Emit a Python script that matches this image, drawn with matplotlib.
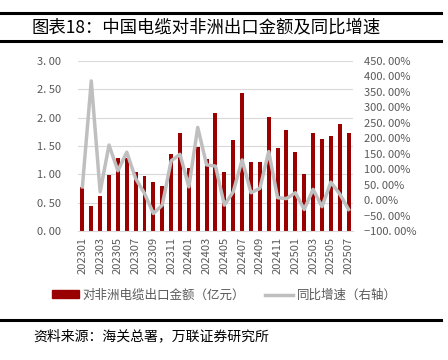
import matplotlib.pyplot as plt
import matplotlib.ticker as mticker
from matplotlib.lines import Line2D
from matplotlib.patches import Patch

plt.rcParams['font.family'] = ['Noto Sans CJK SC', 'DejaVu Sans']

months = [f"{y}{m:02d}" for y, m in
          [(2023, i) for i in range(1, 13)] + [(2024, i) for i in range(1, 13)] + [(2025, i) for i in range(1, 8)]]
# 对非洲电缆出口金额（亿元）
export_value = [0.78, 0.45, 0.62, 0.99, 1.29, 1.29, 1.05, 0.97, 0.87, 0.79,
                1.36, 1.73, 1.12, 1.48, 1.27, 2.08, 1.05, 1.60, 2.44, 1.22,
                1.21, 2.01, 1.46, 1.78, 1.39, 1.01, 1.73, 1.62, 1.68, 1.88, 1.73]
# 同比增速（%）
yoy = [43, 385, 27, 178, 95, 155, 70, 22, -43, -16,
       127, 148, 43, 235, 114, 110, -16, 27, 130, 24,
       38, 157, 8, 5, 24, -30, 35, -21, 58, 20, -30]

BAR = '#9B0000'
LINE = '#BFBFBF'
TXT = '#595959'

fig = plt.figure(figsize=(4.48, 3.6), dpi=100)
ax = fig.add_axes([0.174, 0.358, 0.614, 0.473])
ax2 = ax.twinx()

x = list(range(len(months)))
ax.bar(x, export_value, width=0.45, color=BAR, zorder=2)
ax2.plot(x, yoy, color=LINE, lw=2.5, zorder=3)

ax.set_xlim(-0.5, len(months) - 0.5)
ax.set_ylim(0, 3.0)
ax.set_yticks([i * 0.5 for i in range(7)])
ax.yaxis.set_major_formatter(mticker.FuncFormatter(lambda v, p: f"{v:.2f}".replace('.', '. ')))
ax2.set_ylim(-100, 450)
ax2.set_yticks(range(-100, 451, 50))
ax2.yaxis.set_major_formatter(mticker.FuncFormatter(lambda v, p: f"{v:.2f}".replace('.', '. ').replace('-', '−') + '%'))

ax.set_xticks(x[::2])
ax.set_xticklabels(months[::2], rotation=90)
ax.grid(axis='y', color='#D9D9D9', lw=0.8, zorder=0)
ax.set_axisbelow(True)
ax.set_zorder(ax2.get_zorder() - 1)
ax.patch.set_visible(False)

for a in (ax, ax2):
    for s in a.spines.values():
        s.set_visible(False)
    a.tick_params(length=0, labelsize=8, colors=TXT)
ax.spines['bottom'].set_visible(True)
ax.spines['bottom'].set_color('#D9D9D9')
ax.tick_params(axis='y', pad=12)
ax2.tick_params(axis='y', pad=8)
ax.tick_params(axis='x', pad=4)

handles = [Patch(color=BAR), Line2D([0], [0], color=LINE, lw=2.5)]
fig.legend(handles, ['对非洲电缆出口金额（亿元）', '同比增速（右轴）'],
           loc='center', bbox_to_anchor=(0.5, 0.18), ncol=2, frameon=False,
           fontsize=9, labelcolor=TXT, handlelength=2.2, handleheight=0.6,
           columnspacing=1.6, handletextpad=0.3)

# title and source bars
fig.add_artist(Line2D([0.0, 0.985], [1 - 13 / 360, 1 - 13 / 360], color='black', lw=2.2))
fig.add_artist(Line2D([0.0, 0.985], [1 - 40.5 / 360, 1 - 40.5 / 360], color='black', lw=2.2))
fig.text(0.07, 1 - 27 / 360, '图表18：中国电缆对非洲出口金额及同比增速', fontsize=12.5,
         va='center', ha='left', color='black')
fig.add_artist(Line2D([0.0, 0.985], [1 - 320 / 360, 1 - 320 / 360], color='black', lw=2.2))
fig.text(0.075, 1 - 336 / 360, '资料来源：海关总署，万联证券研究所', fontsize=10,
         va='center', ha='left', style='italic', color='black')

fig.savefig('out.png', dpi=100)
